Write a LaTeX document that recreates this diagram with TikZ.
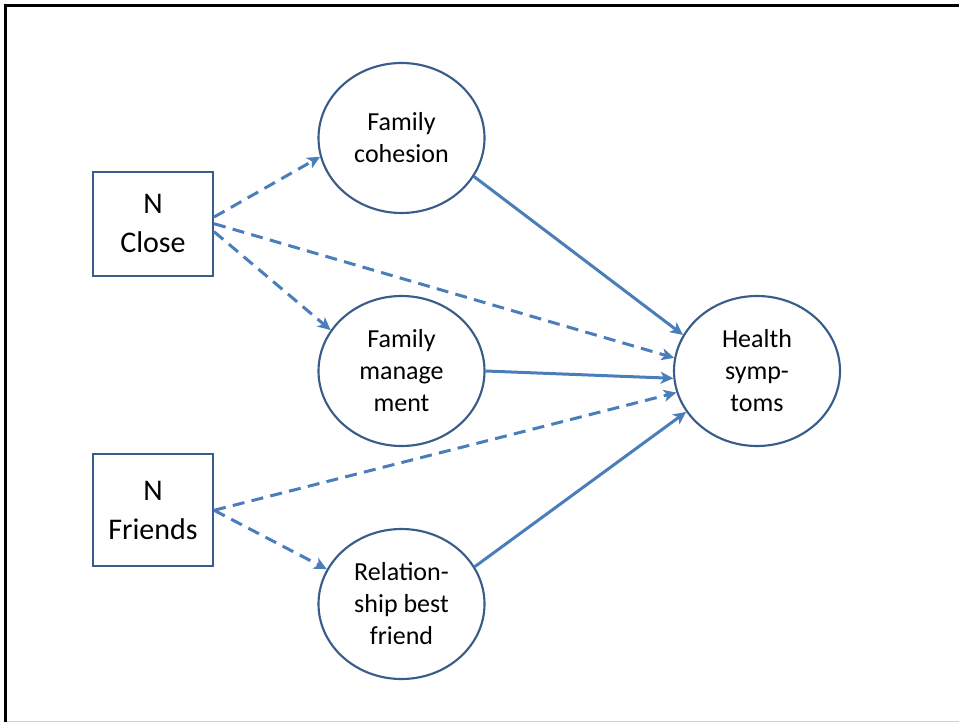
\documentclass[tikz,border=0pt]{standalone}
\usepackage{fontspec}
\setmainfont{Carlito}
\usetikzlibrary{arrows.meta,shapes.geometric}
\definecolor{shapeblue}{HTML}{385D8A}
\definecolor{arrowblue}{HTML}{4A7EBB}

\begin{document}
\begin{tikzpicture}[x=0.75pt,y=0.75pt,
    varbox/.style={draw=shapeblue, line width=1.6pt, minimum width=90pt, inner sep=0pt,
        align=center, font=\fontsize{22.5}{29}\selectfont},
    varoval/.style={ellipse, draw=shapeblue, line width=1.6pt, minimum width=124.5pt,
        minimum height=112.5pt, inner sep=0pt, align=center, font=\fontsize{19.5}{24}\selectfont},
    link/.style={draw=arrowblue, line width=2.25pt, -{Stealth[length=9.5pt, width=9pt, inset=2.5pt]}},
    weaklink/.style={link, dash pattern=on 9pt off 5.5pt}]
    \useasboundingbox (0,0) rectangle (959,722);

    % 外框
    \draw[line width=2.25pt] (4,716.5) -- (959,716.5);
    \draw[line width=2.25pt] (5.5,0) -- (5.5,717.5);
    \draw[gray!35, line width=0.75pt] (7,1) -- (959,1);

    % 定義節點的位置
    \node[varbox, minimum height=78pt] (NClose) at (153,498.3) {N\\Close};
    \node[varbox, minimum height=84pt] (NFriends) at (153,211.7) {N\\Friends};
    \node[varoval] (cohesion) at (401.5,584) {Family\\cohesion};
    \node[varoval] (management) at (401.5,351) {Family\\manage\\ment};
    \node[varoval] (relationship) at (401.5,118) {Relation-\\ship best\\friend};
    \node[varoval] (health) at (757,351) {Health\\symp-\\toms};

    % 畫出虛線箭頭
    \draw[weaklink] ([yshift=5pt]NClose.east) -- (cohesion.193);
    \draw[weaklink] ([yshift=-6pt]NClose.east) -- (management.150);
    \draw[weaklink] (NClose.east) -- (health.171);
    \draw[weaklink] (NFriends.east) -- (health.195);
    \draw[weaklink] (NFriends.east) -- (relationship.155);

    % 畫出實線箭頭
    \draw[link] (cohesion.-28) -- (health.154);
    \draw[link] (management.east) -- (health.185);
    \draw[link] (relationship.27) -- (health.210);
\end{tikzpicture}
\end{document}
